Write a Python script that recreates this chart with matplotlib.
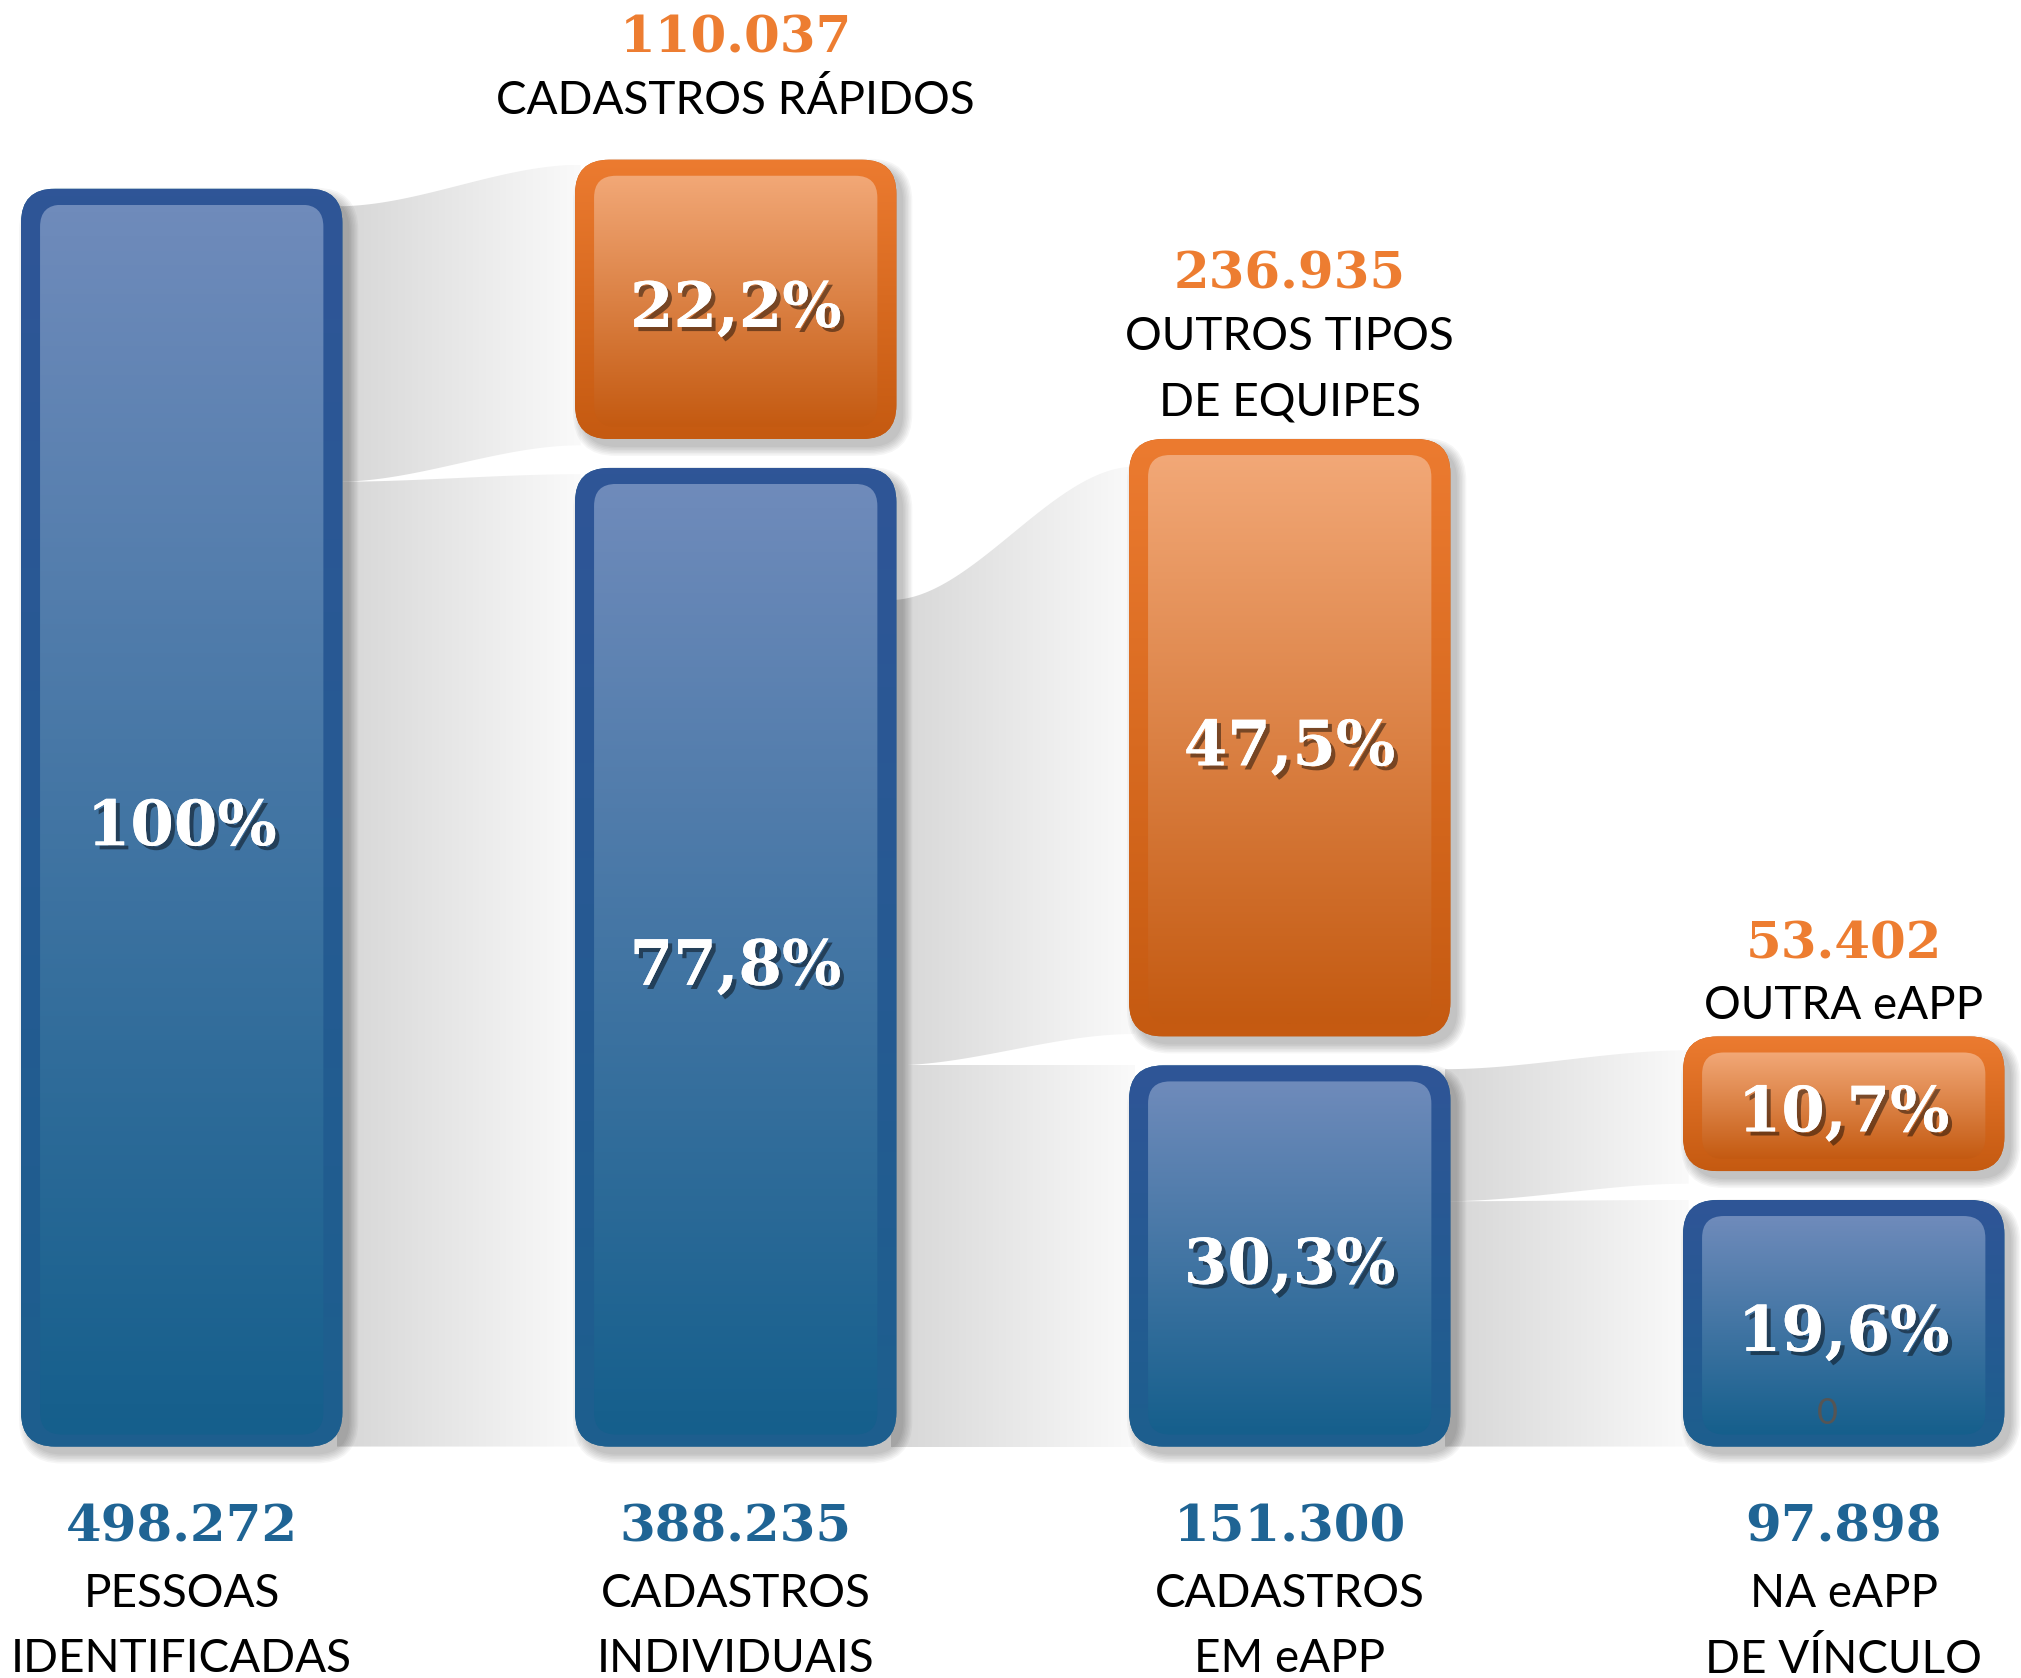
import numpy as np
import matplotlib
matplotlib.use("Agg")
import matplotlib.pyplot as plt
import matplotlib.patheffects as pe
from matplotlib.patches import FancyBboxPatch, PathPatch
from matplotlib.path import Path
from matplotlib.colors import LinearSegmentedColormap

#-----------------DATA---------------------#
stage_names = ["PESSOAS\nIDENTIFICADAS", "CADASTROS\nINDIVIDUAIS", "CADASTROS\nEM eAPP", "NA eAPP\nDE VÍNCULO"]
stage_counts = ["498.272", "388.235", "151.300", "97.898"]
stage_pct = [100.0, 77.8, 30.3, 19.6]
stage_pct_txt = ["100%", "77,8%", "30,3%", "19,6%"]

split_names = [None, "CADASTROS RÁPIDOS", "OUTROS TIPOS\nDE EQUIPES", "OUTRA eAPP"]
split_counts = [None, "110.037", "236.935", "53.402"]
split_pct = [0.0, 22.2, 47.5, 10.7]
split_pct_txt = [None, "22,2%", "47,5%", "10,7%"]

# grey ribbons between stages (percent units)
flow_src_top = [98.6, 67.3, 30.0]
flow_dst_top = [101.9, 77.9, 31.5]
flow_src_split = [76.7, 30.3, 19.5]
flow_dst_upper = [79.6, 32.8, 20.9]
flow_dst_lower = [77.3, 30.3, 19.6]

#-----------------LAYOUT / STYLE---------------------#
W_PX, H_PX = 2021, 1678
XLIM = (-0.328, 3.320)
YLIM = (-18.4, 115.0)
PX_X = (XLIM[1] - XLIM[0]) / W_PX
PX_Y = (YLIM[1] - YLIM[0]) / H_PX
ASPECT = PX_Y / PX_X
BAR_W = 0.58
GAP = 2.3          # gap between blue and orange block
R_OUT, R_IN = 34, 22
B_SIDE, B_TOP, B_BOT = 19, 16, 12

BLUE_OUT = ("#1d5f8e", "#2f5597")
BLUE_IN = ("#155f8c", "#6f8bbb")
ORNG_OUT = ("#c55a11", "#ec7b30")
ORNG_IN = ("#c45a11", "#f2a877")
BLUE_TXT = "#1f6494"
ORNG_TXT = "#ed7d31"

PCT_FONT = dict(family="DejaVu Serif", weight="bold", size=45, color="white")
CNT_FONT = dict(family="DejaVu Serif", weight="bold", size=37)
LBL_FONT = dict(family=["Lato", "DejaVu Sans"], size=33, color="black")
top_pad = [None, 4.7, 2.9, 2.4]
LINE_STEP = 5.2
CNT_STEP = 4.9

fig = plt.figure(figsize=(W_PX / 100, H_PX / 100), dpi=100)
ax = fig.add_axes([0, 0, 1, 1])


def rounded(x0, y0, w, h, r_px):
    return FancyBboxPatch((x0, y0), w, h,
                          boxstyle=f"round,pad=0,rounding_size={r_px * PX_X}",
                          mutation_aspect=ASPECT)


def grad_fill(patch, c0, c1, ext, horizontal=False, z=3):
    cmap = LinearSegmentedColormap.from_list("g", [c0, c1])
    v = np.linspace(0, 1, 256)
    arr = v[None, :] if horizontal else v[:, None]
    im = ax.imshow(arr, cmap=cmap, extent=ext, origin="lower", aspect="auto",
                   interpolation="bilinear", zorder=z)
    im.set_clip_path(patch)


def draw_block(xc, y0, h, outer, inner):
    x0 = xc - BAR_W / 2
    # soft drop shadow
    for k in range(7):
        g = 1.5 * k
        sh = rounded(x0 + (7 - g) * PX_X, y0 - (8 + g) * PX_Y,
                     BAR_W + 2 * g * PX_X, h + 2 * g * PX_Y, R_OUT + g)
        sh.set(facecolor="black", edgecolor="none", alpha=0.035, zorder=2)
        ax.add_patch(sh)
    op = rounded(x0, y0, BAR_W, h, R_OUT)
    op.set(facecolor=outer[0], edgecolor="none", zorder=3)
    ax.add_patch(op)
    grad_fill(op, outer[0], outer[1], [x0, x0 + BAR_W, y0, y0 + h], z=3)
    ix0, iy0 = x0 + B_SIDE * PX_X, y0 + B_BOT * PX_Y
    iw, ih = BAR_W - 2 * B_SIDE * PX_X, h - (B_TOP + B_BOT) * PX_Y
    ip = rounded(ix0, iy0, iw, ih, R_IN)
    ip.set(facecolor="none", edgecolor="none", zorder=4)
    ax.add_patch(ip)
    grad_fill(ip, inner[0], inner[1], [ix0, ix0 + iw, iy0, iy0 + ih], z=4)


def smooth(a, b, t):
    s = 3 * t ** 2 - 2 * t ** 3
    return a + (b - a) * s


def ribbon(xs, xe, lo0, lo1, hi0, hi1):
    t = np.linspace(0, 1, 80)
    x = xs + (xe - xs) * t
    top = smooth(hi0, hi1, t)
    bot = smooth(lo0, lo1, t)
    verts = np.vstack([np.column_stack([x, top]), np.column_stack([x[::-1], bot[::-1]])])
    path = Path(np.vstack([verts, verts[:1]]), closed=True)
    pp = PathPatch(path, facecolor="none", edgecolor="none", zorder=1)
    ax.add_patch(pp)
    grad_fill(pp, "#d6d6d6", "#fafafa", [xs, xe, min(bot.min(), 0), top.max()],
              horizontal=True, z=1)


#-----------------FLOWS---------------------#
for i in range(3):
    xs = i + BAR_W / 2 - 0.01
    xe = i + 1 - BAR_W / 2 + 0.01
    ribbon(xs, xe, 0, 0, flow_src_split[i], flow_dst_lower[i])
    ribbon(xs, xe, flow_src_split[i], flow_dst_upper[i], flow_src_top[i], flow_dst_top[i])

#-----------------BARS---------------------#
pct_fx = [pe.withSimplePatchShadow(offset=(3, -3), shadow_rgbFace="black", alpha=0.45), pe.Normal()]
for i in range(4):
    draw_block(i, 0, stage_pct[i], BLUE_OUT, BLUE_IN)
    ax.text(i, stage_pct[i] / 2 - 0.8, stage_pct_txt[i], ha="center", va="center",
            zorder=6, path_effects=pct_fx, **PCT_FONT)
    # bottom labels
    ax.text(i, -6.5, stage_counts[i], ha="center", va="center", color=BLUE_TXT, zorder=6, **CNT_FONT)
    for j, line in enumerate(stage_names[i].split("\n")):
        ax.text(i, -6.5 - CNT_STEP - j * LINE_STEP - 0.3, line, ha="center", va="center", zorder=6, **LBL_FONT)

    if split_pct[i] > 0:
        y0 = stage_pct[i] + GAP
        top = y0 + split_pct[i]
        draw_block(i, y0, split_pct[i], ORNG_OUT, ORNG_IN)
        ax.text(i, y0 + split_pct[i] / 2 - 0.8, split_pct_txt[i], ha="center", va="center",
                zorder=6, path_effects=pct_fx, **PCT_FONT)
        lines = split_names[i].split("\n")
        y = top + top_pad[i]
        for line in lines[::-1]:
            ax.text(i, y, line, ha="center", va="center", zorder=6, **LBL_FONT)
            y += LINE_STEP
        ax.text(i, y - LINE_STEP + CNT_STEP, split_counts[i], ha="center", va="center",
                color=ORNG_TXT, zorder=6, **CNT_FONT)

# stray zero label inside the last bar
ax.text(2.971, 2.6, "0", ha="center", va="center", color="#555555", zorder=6,
        family=["Lato", "DejaVu Sans"], size=26)

ax.set_xlim(*XLIM)
ax.set_ylim(*YLIM)
ax.axis("off")
fig.savefig("out.png", dpi=100, facecolor="white")
